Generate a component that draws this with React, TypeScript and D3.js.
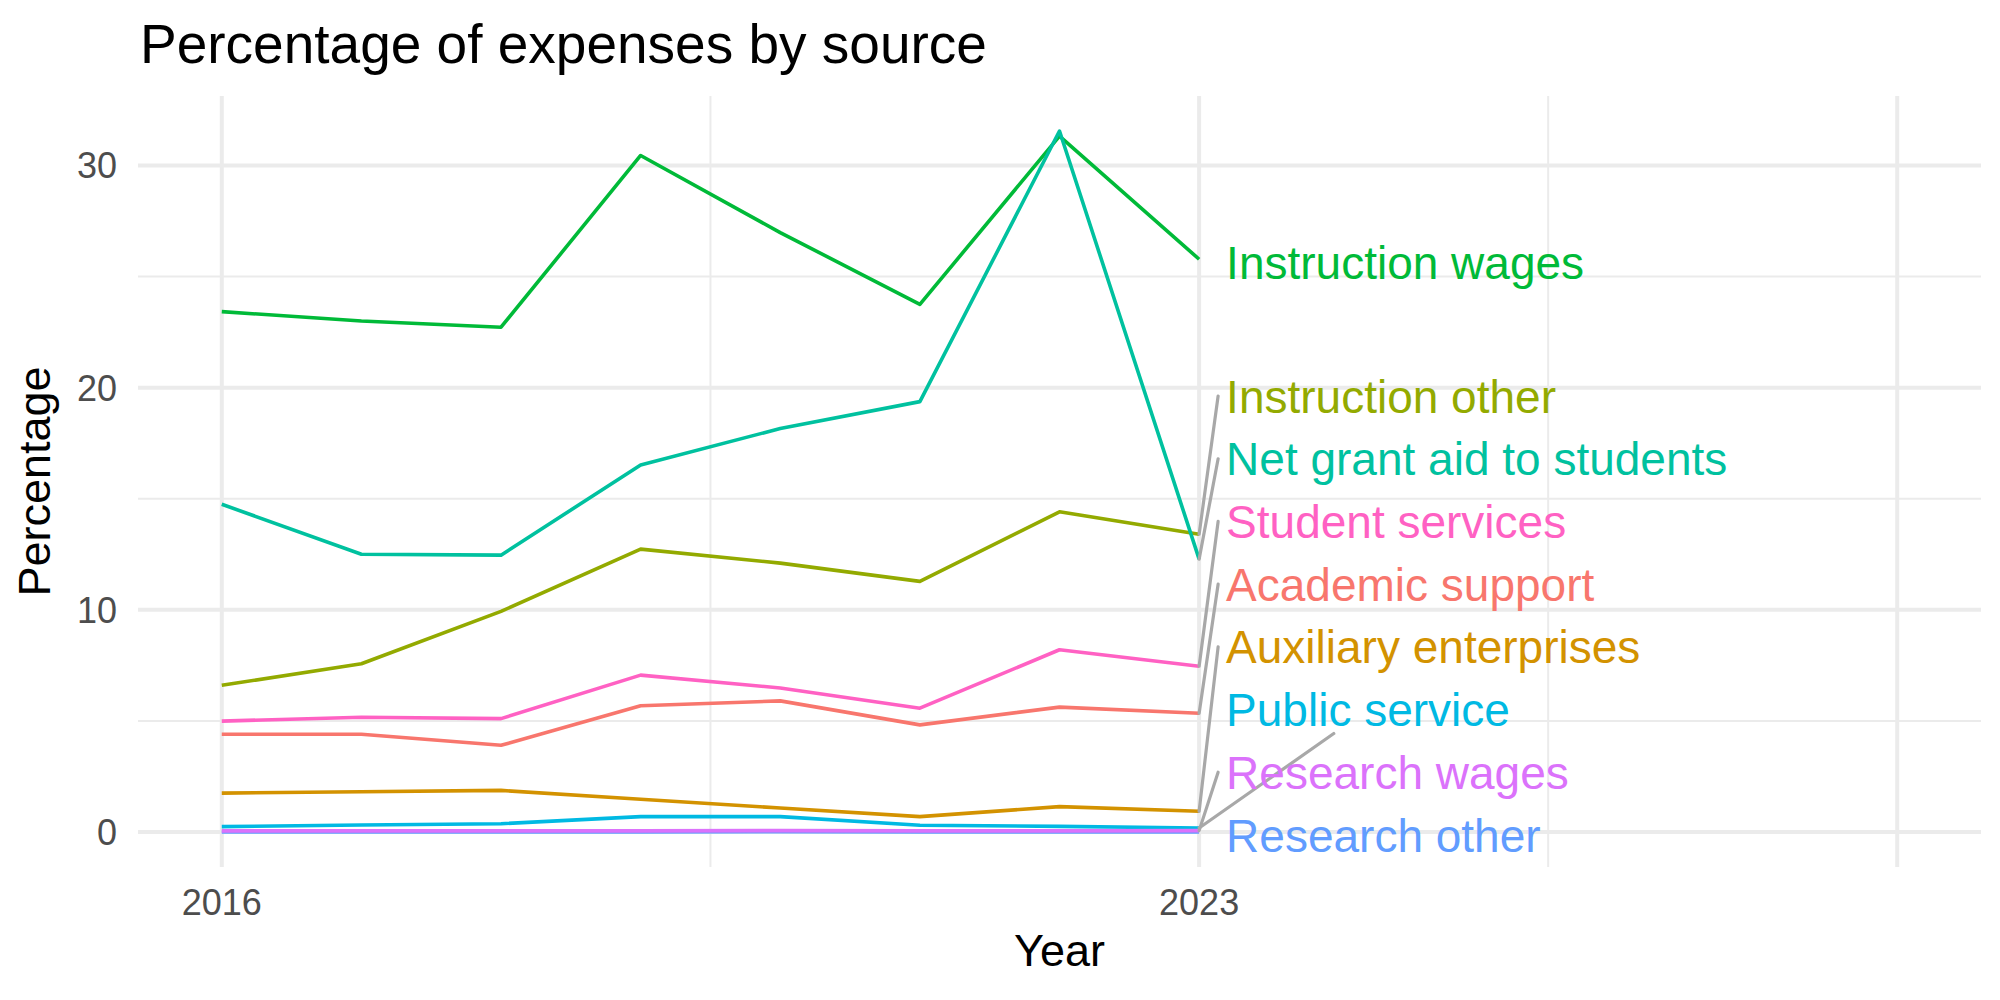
import React, { useRef, useEffect } from 'react';
import * as d3 from 'd3';

// values
const years = [2016, 2017, 2018, 2019, 2020, 2021, 2022, 2023];

const seriesNames = [
    'Academic support',
    'Auxiliary enterprises',
    'Instruction other',
    'Instruction wages',
    'Net grant aid to students',
    'Public service',
    'Research other',
    'Research wages',
    'Student services',
];

const academicSupport = [4.4, 4.4, 3.9, 5.68, 5.9, 4.82, 5.62, 5.34];
const auxiliaryEnterprises = [1.75, 1.81, 1.87, 1.47, 1.08, 0.69, 1.14, 0.93];
const instructionOther = [6.6, 7.57, 9.93, 12.73, 12.1, 11.28, 14.41, 13.4];
const instructionWages = [23.42, 23.0, 22.72, 30.45, 26.98, 23.75, 31.32, 25.78];
const netGrantAid = [14.75, 12.5, 12.46, 16.52, 18.16, 19.37, 31.55, 12.28];
const publicService = [0.24, 0.31, 0.37, 0.69, 0.69, 0.3, 0.25, 0.18];
const researchOther = [0.0, 0.0, 0.0, 0.0, 0.01, 0.0, 0.0, 0.0];
const researchWages = [0.05, 0.05, 0.05, 0.05, 0.06, 0.05, 0.05, 0.06];
const studentServices = [4.99, 5.16, 5.1, 7.06, 6.48, 5.57, 8.2, 7.46];

const seriesValues = [
    academicSupport,
    auxiliaryEnterprises,
    instructionOther,
    instructionWages,
    netGrantAid,
    publicService,
    researchOther,
    researchWages,
    studentServices,
];

const palette = ['#F8766D', '#D39200', '#93AA00', '#00BA38', '#00C19F', '#00B9E3', '#619CFF', '#DB72FB', '#FF61C3'];

// x axis: breaks with labels, the last break has no label
const xBreaks = [2016, 2023, 2028];
const xBreakLabels = ['2016', '2023', ''];
const xMinorBreaks = [2019.5, 2025.5];
const xLimits = [2016, 2028];
const yBreaks = [0, 10, 20, 30];
const yMinorBreaks = [5, 15, 25];

// labels whose connector goes to the bottom edge of the label box
const bottomConnected = ['Public service'];

const FONT = '"Liberation Sans", Arial, Helvetica, sans-serif';

const App = () => {
    const svgRef = useRef(null);
    const width = 2000;
    const height = 1000;
    const margin = { top: 96, right: 19, bottom: 133, left: 138 };

    useEffect(() => {
        if (!svgRef.current) {
            return;
        }
        const svg = d3.select(svgRef.current);
        svg.selectAll('*').remove();

        const x0 = margin.left;
        const x1 = width - margin.right;
        const y0 = height - margin.bottom;
        const y1 = margin.top;

        const xPad = (xLimits[1] - xLimits[0]) * 0.05;
        const xScale = d3.scaleLinear()
            .domain([xLimits[0] - xPad, xLimits[1] + xPad])
            .range([x0, x1]);

        const allVals = seriesValues.flat();
        const yMin = d3.min(allVals);
        const yMax = d3.max(allVals);
        const yPad = (yMax - yMin) * 0.05;
        const yScale = d3.scaleLinear()
            .domain([yMin - yPad, yMax + yPad])
            .range([y0, y1]);

        const grid = svg.append('g');
        // minor grid
        grid.selectAll('.ymin').data(yMinorBreaks).join('line')
            .attr('x1', x0).attr('x2', x1)
            .attr('y1', d => yScale(d)).attr('y2', d => yScale(d))
            .attr('stroke', '#EBEBEB').attr('stroke-width', 2);
        grid.selectAll('.xmin').data(xMinorBreaks).join('line')
            .attr('y1', y0).attr('y2', y1)
            .attr('x1', d => xScale(d)).attr('x2', d => xScale(d))
            .attr('stroke', '#EBEBEB').attr('stroke-width', 2);
        // major grid
        grid.selectAll('.ymaj').data(yBreaks).join('line')
            .attr('class', 'ymaj')
            .attr('x1', x0).attr('x2', x1)
            .attr('y1', d => yScale(d)).attr('y2', d => yScale(d))
            .attr('stroke', '#EBEBEB').attr('stroke-width', 4);
        grid.selectAll('.xmaj').data(xBreaks).join('line')
            .attr('class', 'xmaj')
            .attr('y1', y0).attr('y2', y1)
            .attr('x1', d => xScale(d)).attr('x2', d => xScale(d))
            .attr('stroke', '#EBEBEB').attr('stroke-width', 4);

        // axis tick labels
        svg.append('g').selectAll('text').data(yBreaks).join('text')
            .attr('x', x0 - 21)
            .attr('y', d => yScale(d))
            .attr('dy', '0.36em')
            .attr('text-anchor', 'end')
            .attr('font-family', FONT)
            .attr('font-size', 36)
            .attr('fill', '#4D4D4D')
            .text(d => d);
        svg.append('g').selectAll('text').data(xBreaks).join('text')
            .attr('x', d => xScale(d))
            .attr('y', 915)
            .attr('text-anchor', 'middle')
            .attr('font-family', FONT)
            .attr('font-size', 36)
            .attr('fill', '#4D4D4D')
            .text((d, i) => xBreakLabels[i]);

        // lines
        const line = d3.line()
            .x((d, i) => xScale(years[i]))
            .y(d => yScale(d));
        svg.append('g').selectAll('path').data(seriesValues).join('path')
            .attr('d', d => line(d))
            .attr('fill', 'none')
            .attr('stroke', (d, i) => palette[i])
            .attr('stroke-width', 3.6)
            .attr('stroke-linejoin', 'round');

        // repelled end labels (stacked from the bottom up)
        const last = years.length - 1;
        const order = d3.range(seriesNames.length)
            .sort((a, b) => seriesValues[a][last] - seriesValues[b][last]);
        const gap = 62.7;
        const labelY = {};
        let prev = null;
        order.forEach(i => {
            const dy = yScale(seriesValues[i][last]) + 3;
            const ly = prev === null ? dy : Math.min(dy, prev - gap);
            labelY[i] = ly;
            prev = ly;
        });

        const xEnd = xScale(years[last]);
        const labelX = xEnd + 27;
        const segs = svg.append('g');
        const labels = svg.append('g');
        order.forEach(i => {
            const t = labels.append('text')
                .attr('x', labelX)
                .attr('y', labelY[i])
                .attr('dy', '0.36em')
                .attr('font-family', FONT)
                .attr('font-size', 46)
                .attr('fill', palette[i])
                .text(seriesNames[i]);
            const tw = t.node().getComputedTextLength();
            const px = xEnd;
            const py = yScale(seriesValues[i][last]);
            if (Math.abs(labelY[i] - py) < 20) return;
            let ex = labelX - 8;
            let ey = labelY[i];
            if (bottomConnected.includes(seriesNames[i])) {
                const cx = labelX + tw / 2;
                const cy = labelY[i];
                ey = labelY[i] + 24;
                ex = px + (cx - px) * (py - ey) / (py - cy);
            }
            segs.append('line')
                .attr('x1', px).attr('y1', py)
                .attr('x2', ex).attr('y2', ey)
                .attr('stroke', '#A8A8A8')
                .attr('stroke-width', 3.2)
                .attr('stroke-linecap', 'round');
        });

        // titles
        svg.append('text')
            .attr('x', 140).attr('y', 63)
            .attr('font-family', FONT)
            .attr('font-size', 55)
            .attr('fill', '#000')
            .text('Percentage of expenses by source');
        svg.append('text')
            .attr('x', (x0 + x1) / 2).attr('y', 966)
            .attr('text-anchor', 'middle')
            .attr('font-family', FONT)
            .attr('font-size', 45)
            .attr('fill', '#000')
            .text('Year');
        svg.append('text')
            .attr('transform', `translate(50, ${(y0 + y1) / 2}) rotate(-90)`)
            .attr('text-anchor', 'middle')
            .attr('font-family', FONT)
            .attr('font-size', 45)
            .attr('fill', '#000')
            .text('Percentage');
    }, []);

    return (
        <svg
            ref={svgRef}
            width={width}
            height={height}
            style={{ position: 'absolute', left: 0, top: 0, background: 'white' }}
        ></svg>
    );
};

export default App;
